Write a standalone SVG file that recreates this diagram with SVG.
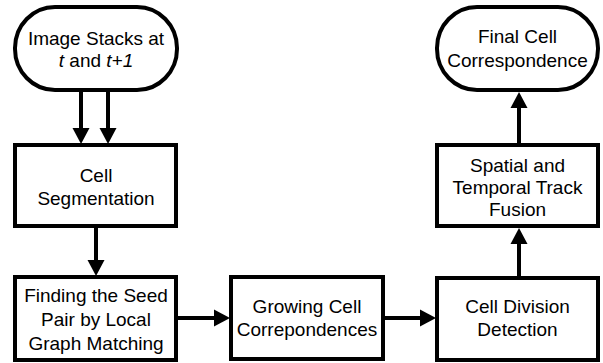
<svg xmlns="http://www.w3.org/2000/svg" width="603" height="363" viewBox="0 0 603 363">
<style>
.n{fill:#fff;stroke:#000;stroke-width:4}
.t{font-family:"Liberation Sans",Arial,sans-serif;font-size:19px;fill:#000;text-anchor:middle}
.c{fill:none;stroke:#000;stroke-width:4}
</style>
<defs>
<marker id="ah" markerUnits="userSpaceOnUse" markerWidth="17" markerHeight="18" refX="0" refY="8.5" orient="auto" viewBox="0 0 17 17" overflow="visible">
<path d="M0,0 L16,8.5 L0,17 z" fill="#000"/>
</marker>
</defs>
<rect width="603" height="363" fill="#fff"/>
<g id="connectors">
<line class="c" x1="81" y1="90" x2="81" y2="128" marker-end="url(#ah)"/>
<line class="c" x1="108" y1="90" x2="108" y2="128" marker-end="url(#ah)"/>
<line class="c" x1="96" y1="226" x2="96" y2="260" marker-end="url(#ah)"/>
<line class="c" x1="176" y1="318" x2="214" y2="318" marker-end="url(#ah)"/>
<line class="c" x1="383" y1="318" x2="420" y2="318" marker-end="url(#ah)"/>
<line class="c" x1="519" y1="278" x2="519" y2="244" marker-end="url(#ah)"/>
<line class="c" x1="519" y1="145" x2="519" y2="108" marker-end="url(#ah)"/>
</g>
<g id="image-stacks">
<rect class="n" x="15" y="7" width="162" height="83" rx="40" ry="41"/>
<text class="t" x="96" y="45">Image Stacks at</text>
<text class="t" x="96" y="67"><tspan font-style="italic">t</tspan> and <tspan font-style="italic">t+1</tspan></text>
</g>
<g id="cell-segmentation">
<rect class="n" x="15" y="145" width="161" height="81"/>
<text class="t" x="96" y="182">Cell</text>
<text class="t" x="96" y="205">Segmentation</text>
</g>
<g id="seed-pair">
<rect class="n" x="15" y="277" width="161" height="83"/>
<text class="t" x="96" y="302">Finding the Seed</text>
<text class="t" x="96" y="326">Pair by Local</text>
<text class="t" x="96" y="350">Graph Matching</text>
</g>
<g id="growing">
<rect class="n" x="231" y="277" width="152" height="82"/>
<text class="t" x="307" y="313">Growing Cell</text>
<text class="t" x="307" y="336">Correpondences</text>
</g>
<g id="cell-division">
<rect class="n" x="437" y="278" width="161" height="82"/>
<text class="t" x="517.5" y="313">Cell Division</text>
<text class="t" x="517.5" y="336">Detection</text>
</g>
<g id="fusion">
<rect class="n" x="437" y="145" width="161" height="81"/>
<text class="t" x="517.5" y="172">Spatial and</text>
<text class="t" x="517.5" y="194">Temporal Track</text>
<text class="t" x="517.5" y="216">Fusion</text>
</g>
<g id="final">
<rect class="n" x="437" y="7" width="161" height="83" rx="40" ry="41"/>
<text class="t" x="517.5" y="43">Final Cell</text>
<text class="t" x="517.5" y="67">Correspondence</text>
</g>
</svg>
